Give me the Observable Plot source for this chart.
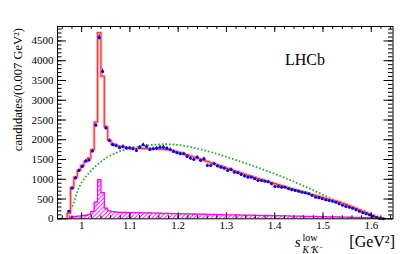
<!DOCTYPE html>
<html><head><meta charset="utf-8">
<script src="https://cdn.jsdelivr.net/npm/d3@7"></script>
<script src="https://cdn.jsdelivr.net/npm/@observablehq/plot@0.6"></script>
<style>
body{margin:0;background:#fff;}
#chart{width:407px;height:254px;}
#chart svg text{font-family:"Liberation Serif",serif;}
</style></head><body><div id="chart"></div>
<script>
// binning (GeV^2)
const binStart = 0.970;
const binWidth = 0.007;
// data candidates per bin
const dataCounts = [190, 775, 1030, 1225, 1325, 1460, 1485, 1715, 2370, 4590,
 3730, 2300, 1980, 1875, 1855, 1800, 1830, 1790, 1790, 1772,
 1730, 1813, 1874, 1830, 1755, 1772, 1788, 1813, 1813, 1788,
 1755, 1704, 1671, 1646, 1646, 1577, 1535, 1500, 1560, 1477,
 1519, 1350, 1350, 1393, 1333, 1306, 1282, 1223, 1249, 1181,
 1164, 1122, 1080, 1054, 1054, 1013, 970, 970, 953, 935,
 886, 818, 818, 801, 801, 760, 735, 717, 700, 674,
 658, 633, 590, 547, 532, 506, 481, 463, 446, 420,
 380, 345, 311, 290, 270, 228, 193, 152, 125, 100,
 66, 30, 10, 0];
// total fit (red)
const fitCounts = [140, 800, 1060, 1230, 1350, 1450, 1540, 1750, 2450, 4710,
 3610, 2330, 1990, 1890, 1855, 1832, 1815, 1803, 1795, 1789,
 1784, 1780, 1777, 1775, 1773, 1771, 1768, 1764, 1758, 1750,
 1740, 1715, 1692, 1668, 1643, 1617, 1590, 1563, 1535, 1507,
 1478, 1449, 1420, 1391, 1362, 1333, 1304, 1275, 1246, 1217,
 1188, 1158, 1130, 1102, 1075, 1048, 1021, 994, 968, 942,
 916, 890, 864, 838, 812, 787, 762, 737, 712, 688,
 664, 640, 616, 592, 568, 544, 520, 496, 472, 448,
 422, 394, 364, 332, 298, 263, 228, 193, 158, 123,
 88, 55, 25, 6];
// alternative model (green dotted)
const altModel = [50, 290, 560, 800, 950, 1070, 1160, 1255, 1340, 1410,
 1475, 1540, 1585, 1630, 1670, 1705, 1735, 1760, 1780, 1800,
 1815, 1830, 1845, 1855, 1865, 1872, 1878, 1883, 1886, 1887,
 1885, 1880, 1872, 1862, 1848, 1832, 1815, 1797, 1778, 1756,
 1733, 1710, 1688, 1664, 1638, 1612, 1585, 1557, 1528, 1500,
 1472, 1443, 1413, 1383, 1353, 1322, 1292, 1262, 1232, 1200,
 1168, 1135, 1102, 1068, 1034, 998, 962, 925, 888, 850,
 812, 774, 735, 695, 656, 616, 576, 536, 496, 456,
 416, 376, 336, 296, 258, 220, 183, 147, 113, 82,
 54, 30, 12, 2];
// background (magenta hatched)
const background = [20, 45, 60, 70, 80, 90, 110, 190, 420, 990,
 660, 270, 200, 180, 170, 165, 162, 160, 158, 156,
 154, 152, 150, 149, 147, 145, 143, 141, 139, 137,
 135, 133, 131, 129, 127, 125, 123, 121, 119, 117,
 115, 113, 111, 109, 107, 105, 103, 101, 99, 98,
 97, 95, 94, 92, 91, 90, 88, 86, 84, 83,
 82, 80, 78, 76, 74, 72, 70, 68, 66, 65,
 63, 61, 60, 58, 56, 55, 53, 51, 49, 47,
 45, 43, 41, 39, 37, 35, 33, 30, 28, 25,
 22, 18, 13, 8];
const xTickLabels = [1, 1.1, 1.2, 1.3, 1.4, 1.5, 1.6];
const yTickLabels = [0, 500, 1000, 1500, 2000, 2500, 3000, 3500, 4000, 4500];
const xMinorStep = 0.02;
const yMinorStep = 100;
const xDomain = [0.95, 1.645];
const yDomain = [0, 4866];

const bins = dataCounts.map((v, k) => {
  const lo = binStart + k * binWidth, hi = lo + binWidth;
  return {lo, hi, mid: (lo + hi) / 2, data: v, fit: fitCounts[k], alt: altModel[k], bkg: background[k], err: Math.sqrt(v)};
});
function steps(key) {
  const pts = [{x: bins[0].lo, y: 0}];
  for (const b of bins) { pts.push({x: b.lo, y: b[key]}); pts.push({x: b.hi, y: b[key]}); }
  pts.push({x: bins[bins.length - 1].hi, y: 0});
  return pts;
}
const xMinor = d3.range(0.96, 1.6401, xMinorStep).map(v => +v.toFixed(3));
const yMinor = d3.range(0, 4801, yMinorStep);

const W = 407, H = 254, mL = 57, mR = 14.5, mT = 26, mB = 35.7;
const fw = W - mL - mR, fh = H - mT - mB;
const yMaj = 9, yMin = 4.5, xMaj = 6, xMin = 3;

const plot = Plot.plot({
  width: W, height: H,
  marginLeft: mL, marginRight: mR, marginTop: mT, marginBottom: mB,
  style: "font-family:'Liberation Serif',serif;font-size:11px;color:#000;background:#fff;",
  x: {domain: xDomain, label: null},
  y: {domain: yDomain, label: null},
  marks: [
    Plot.rectY(bins, {x1: "lo", x2: "hi", y: "bkg", fill: "url(#hatch)"}),
    Plot.line(steps("bkg"), {x: "x", y: "y", stroke: "#ff00ff", strokeWidth: 1.3}),
    Plot.line(bins, {x: "mid", y: "alt", stroke: "#22aa22", strokeWidth: 1.8, strokeDasharray: "1.6,2", strokeLinecap: "butt"}),
    Plot.line(steps("fit"), {x: "x", y: "y", stroke: "#ffb4b4", strokeWidth: 3}),
    Plot.line(steps("fit"), {x: "x", y: "y", stroke: "#ff3030", strokeWidth: 1.1}),
    Plot.ruleX(bins, {x: "mid", y1: d => d.data - d.err, y2: d => d.data + d.err, stroke: "#0000ff", strokeWidth: 1}),
    Plot.ruleY(bins, {y: "data", x1: d => d.mid - binWidth * 0.3, x2: d => d.mid + binWidth * 0.3, stroke: "#0000ff", strokeWidth: 1}),
    Plot.dot(bins, {x: "mid", y: "data", r: 1.5, fill: "#0000ff"}),
    Plot.frame({stroke: "#000", strokeWidth: 1}),
    // inward ticks, left / right
    Plot.tickY(yTickLabels, {y: d => d, insetRight: fw - yMaj, stroke: "#000"}),
    Plot.tickY(yMinor, {y: d => d, insetRight: fw - yMin, stroke: "#000"}),
    Plot.tickY(yTickLabels, {y: d => d, insetLeft: fw - yMaj, stroke: "#000"}),
    Plot.tickY(yMinor, {y: d => d, insetLeft: fw - yMin, stroke: "#000"}),
    // inward ticks, bottom / top
    Plot.tickX(xTickLabels, {x: d => d, insetTop: fh - xMaj, stroke: "#000"}),
    Plot.tickX(xMinor, {x: d => d, insetTop: fh - xMin, stroke: "#000"}),
    Plot.tickX(xTickLabels, {x: d => d, insetBottom: fh - xMaj, stroke: "#000"}),
    Plot.tickX(xMinor, {x: d => d, insetBottom: fh - xMin, stroke: "#000"}),
    Plot.axisY({ticks: yTickLabels, tickSize: 0, tickPadding: 4, fontSize: 11, label: null, tickFormat: d => String(d)}),
    Plot.axisX({ticks: xTickLabels, tickSize: 0, tickPadding: 2, fontSize: 11, label: null, tickFormat: d => String(+(+d).toFixed(1))})
  ]
});

const svg = d3.select(plot);
const defs = svg.insert("defs", ":first-child");
const pat = defs.append("pattern").attr("id", "hatch").attr("patternUnits", "userSpaceOnUse")
  .attr("width", 3).attr("height", 3).attr("patternTransform", "rotate(45)");
pat.append("line").attr("x1", 0.5).attr("y1", 0).attr("x2", 0.5).attr("y2", 3)
  .attr("stroke", "#ff00ff").attr("stroke-width", 0.9);

const ff = "Liberation Serif";
// y title
svg.append("text").attr("transform", "translate(22,28) rotate(-90)").attr("text-anchor", "end")
  .attr("font-family", ff).attr("font-size", 12.5).attr("fill", "#000")
  .text("candidates/(0.007 GeV²)");
// x title: s^low_{K+K-} [GeV^2]
const t = svg.append("text").attr("x", 308).attr("y", 247).attr("font-family", ff).attr("font-size", 15).attr("fill", "#000");
t.append("tspan").attr("font-style", "italic").text("s");
t.append("tspan").attr("font-size", 10).attr("dx", 2).attr("dy", -6.5).text("low");
t.append("tspan").attr("font-size", 9.5).attr("font-style", "italic").attr("dx", -15).attr("dy", 12.5).text("K⁺K⁻");
svg.append("text").attr("x", 395).attr("y", 247).attr("font-family", ff).attr("font-size", 16).attr("fill", "#000")
  .attr("text-anchor", "end").text("[GeV²]");
// experiment label
svg.append("text").attr("x", 305).attr("y", 65).attr("font-family", ff).attr("font-size", 16).attr("fill", "#000").text("LHCb");

document.getElementById("chart").appendChild(plot);
</script>
</body></html>
